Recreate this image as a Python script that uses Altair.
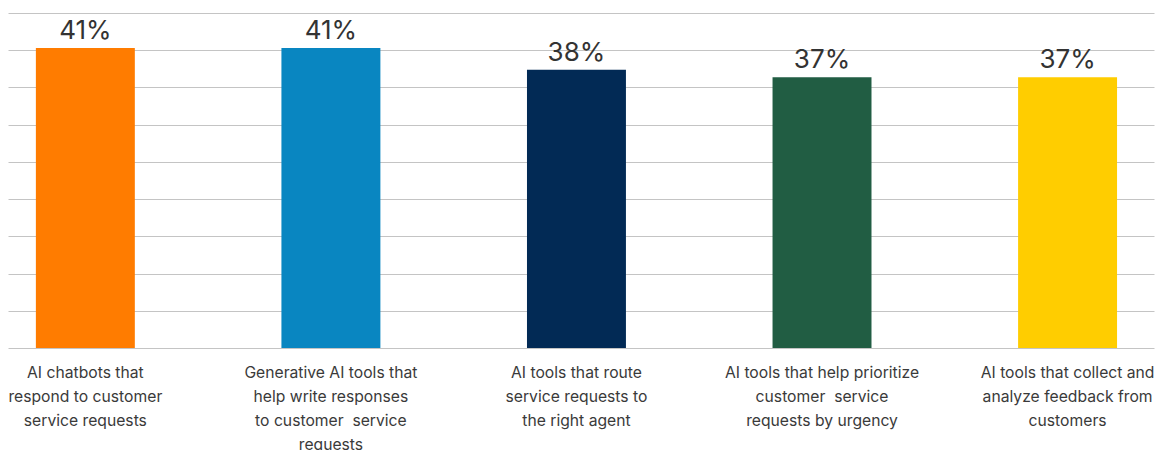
import altair as alt
import pandas as pd

categories = [
    "AI chatbots that|respond to customer|service requests",
    "Generative AI tools that|help write responses|to customer\u00a0 service|requests",
    "AI tools that route|service requests to|the right agent",
    "AI tools that help prioritize|customer\u00a0 service|requests by urgency",
    "AI tools that collect and|analyze feedback from|customers",
]
values = [41, 41, 38, 37, 37]
colors = ["#FF7C00", "#0986C1", "#022A55", "#215D43", "#FFCD00"]

df = pd.DataFrame({"cat": categories, "val": values, "lbl": [f"{v}%" for v in values]})

ymax = 45.77
grid_vals = [round(i * ymax / 9, 3) for i in range(10)]

x = alt.X(
    "cat:N",
    sort=None,
    title=None,
    scale=alt.Scale(paddingInner=0.597, paddingOuter=0.132, align=0.43),
    axis=alt.Axis(
        labelAngle=0,
        labelExpr="split(datum.label, '|')",
        labelFont="Inter",
        labelFontSize=15.7,
        labelColor="#3a3a3a",
        labelLineHeight=24,
        labelPadding=17,
        labelLimit=400,
        domain=False,
        ticks=False,
        grid=False,
    ),
)
y = alt.Y(
    "val:Q",
    title=None,
    scale=alt.Scale(domain=[0, ymax], nice=False, zero=True),
    axis=alt.Axis(
        values=grid_vals,
        labels=False,
        ticks=False,
        domain=False,
        grid=True,
        gridColor="#C4C4C4",
        gridWidth=1,
    ),
)

bars = alt.Chart(df).mark_bar().encode(
    x=x,
    y=y,
    color=alt.Color("cat:N", sort=None, scale=alt.Scale(domain=categories, range=colors), legend=None),
)
text = alt.Chart(df).mark_text(
    dy=-4, baseline="bottom", font="Inter", fontSize=26, color="#333333"
).encode(x=x, y=y, text="lbl:N")

chart = (
    alt.layer(bars, text)
    .properties(
        width=1146,
        height=335,
        autosize=alt.AutoSizeParams(type="none"),
        padding={"left": 8, "top": 13, "right": 2, "bottom": 102},
        view=alt.ViewBackground(strokeWidth=0, strokeOpacity=0),
    )
    .configure_view(strokeOpacity=0, strokeWidth=0)
    .configure(background="white")
)

chart.save("out.html", embed_options={"renderer": "svg", "actions": False})
